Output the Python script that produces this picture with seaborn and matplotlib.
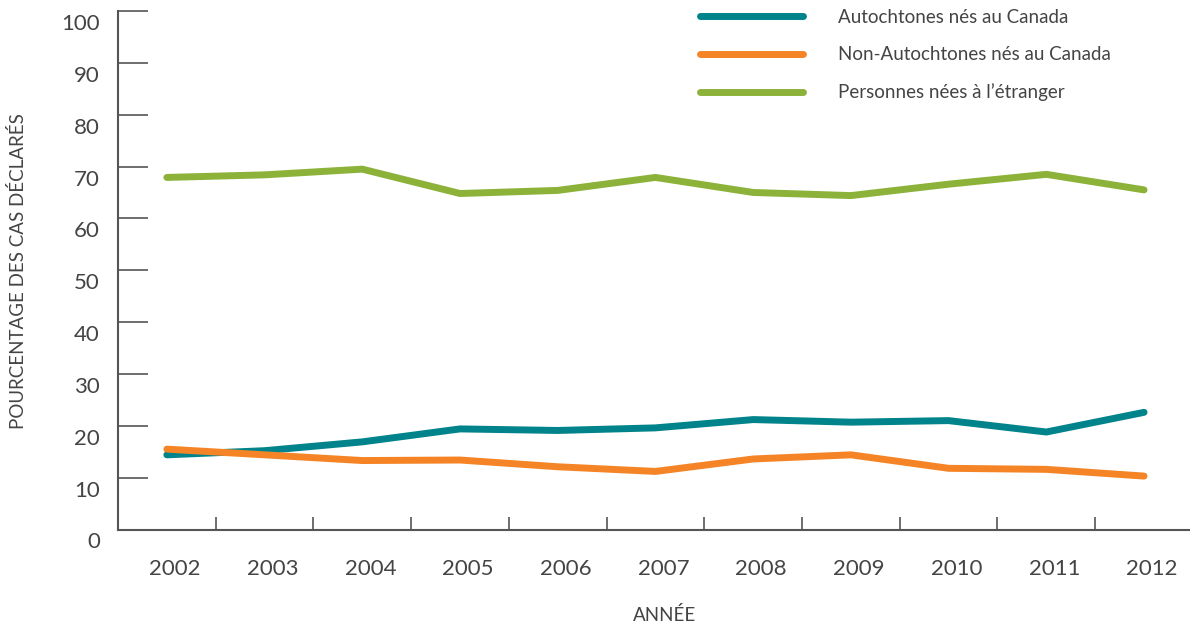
import numpy as np
import pandas as pd
import matplotlib
matplotlib.use("Agg")
import matplotlib.pyplot as plt
from matplotlib.transforms import ScaledTranslation
from matplotlib.lines import Line2D
import seaborn as sns

years = [2002, 2003, 2004, 2005, 2006, 2007, 2008, 2009, 2010, 2011, 2012]
autochtones = [14.4, 15.2, 16.9, 19.4, 19.1, 19.6, 21.2, 20.7, 21.0, 18.8, 22.6]
non_autochtones = [15.5, 14.4, 13.3, 13.4, 12.1, 11.2, 13.6, 14.4, 11.8, 11.6, 10.3]
etranger = [67.9, 68.4, 69.5, 64.8, 65.4, 67.9, 65.0, 64.4, 66.6, 68.5, 65.5]

series_names = ["Autochtones nés au Canada", "Non-Autochtones nés au Canada",
                "Personnes nées à l’étranger"]
colors = ["#00838B", "#F58426", "#8CB23A"]
yticks = [0, 10, 20, 30, 40, 50, 60, 70, 80, 90, 100]

df = pd.DataFrame({
    "Année": years * 3,
    "Pourcentage": autochtones + non_autochtones + etranger,
    "Groupe": [series_names[0]] * len(years) + [series_names[1]] * len(years)
              + [series_names[2]] * len(years),
})

sns.set_style("white")
plt.rcParams["font.family"] = ["Lato", "DejaVu Sans"]

text_color = "#444444"
axis_color = "#555555"

fig = plt.figure(figsize=(11.9, 6.3), dpi=100)
ax = fig.add_axes([118 / 1190, 1 - 529.5 / 630, 1 - 118 / 1190, (529.5 - 11) / 630])

sns.lineplot(data=df, x="Année", y="Pourcentage", hue="Groupe",
             hue_order=series_names, palette=colors, linewidth=5,
             solid_capstyle="round", legend=False, ax=ax)

ax.set_xlim(2001.5, 2012.47)
ax.set_ylim(0, 100)

for s in ["top", "right"]:
    ax.spines[s].set_visible(False)
for s in ["left", "bottom"]:
    ax.spines[s].set_color(axis_color)
    ax.spines[s].set_linewidth(1.5)

# y ticks: inward, labels shifted downward
ax.set_yticks(yticks)
ax.set_yticklabels([str(v) for v in yticks])
ax.tick_params(axis="y", left=True, direction="in", length=21.6, width=1.2,
               color=axis_color, pad=13, labelsize=16, labelcolor=text_color)
for lab in ax.get_yticklabels():
    lab.set_transform(lab.get_transform() + ScaledTranslation(0, -11 / 100, fig.dpi_scale_trans))

# x labels at years (shifted slightly right), tick marks between years
ax.set_xticks(years)
ax.set_xticklabels([str(y) for y in years])
ax.tick_params(axis="x", which="major", bottom=True, length=0, pad=21, labelsize=16,
               labelcolor=text_color)
for lab in ax.get_xticklabels():
    lab.set_transform(lab.get_transform() + ScaledTranslation(8 / 100, 0, fig.dpi_scale_trans))
ax.set_xticks([y + 0.5 for y in years[:-1]], minor=True)
ax.tick_params(axis="x", which="minor", bottom=True, direction="in", length=9.5,
               width=1.2, color=axis_color)

ax.set_xlabel("")
ax.set_ylabel("")
fig.text(18 / 1190, 1 - 271 / 630, "POURCENTAGE DES CAS DÉCLARÉS", rotation=90,
         ha="center", va="center", fontsize=13.5, color=text_color)
fig.text(665 / 1190, 1 - 615 / 630, "ANNÉE", ha="center", va="center",
         fontsize=13.5, color=text_color)

handles = [Line2D([0], [0], color=c, linewidth=5, solid_capstyle="round") for c in colors]
leg = fig.legend(handles, series_names, loc="upper left",
                 bbox_to_anchor=(700 / 1190, 1 - 9 / 630), frameon=False,
                 fontsize=13.5, handlelength=5.5, handletextpad=1.85,
                 labelspacing=1.08, borderpad=0, borderaxespad=0)
for t in leg.get_texts():
    t.set_color(text_color)

fig.savefig("out.png", dpi=100)
